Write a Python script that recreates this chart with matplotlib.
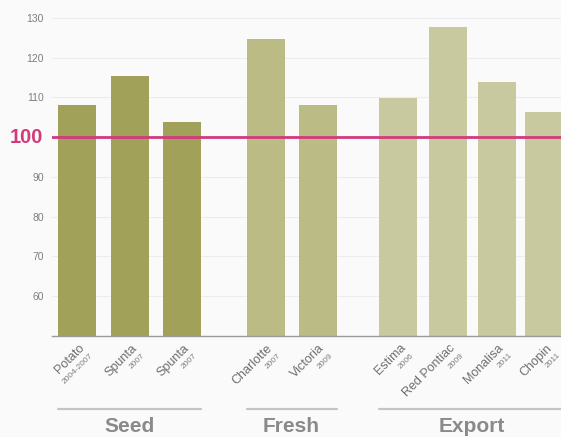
import numpy as np
import matplotlib
matplotlib.use("Agg")
import matplotlib.pyplot as plt
import matplotlib.transforms as mtransforms

# data
names = ["Potato", "Spunta", "Spunta", "Charlotte", "Victoria",
         "Estima", "Red Pontiac", "Monalisa", "Chopin"]
years = ["2004-2007", "2007", "2007", "2007", "2009",
         "2006", "2009", "2011", "2011"]
groups = ["Seed", "Seed", "Seed", "Fresh", "Fresh",
          "Export", "Export", "Export", "Export"]
values = [108.1, 115.5, 103.8, 124.8, 108.1, 109.9, 127.8, 113.9, 106.3]
group_names = ["Seed", "Fresh", "Export"]
yticks = [60, 70, 80, 90, 110, 120, 130]

# layout
xpos = [0, 1.02, 2.03, 3.66, 4.67, 6.24, 7.21, 8.15, 9.08]
group_col = {"Seed": "#a2a15a", "Fresh": "#babb85", "Export": "#c9c9a0"}
pink = "#d23a7c"
grey = "#8a8a8a"
bg = "#fafafa"

fig = plt.figure(figsize=(5.61, 4.37), dpi=100, facecolor=bg)
ax = fig.add_axes([52/561, 101/437, 1 - 52/561, 336/437])
ax.set_facecolor(bg)

ymin = 50
ax.bar(xpos, [v - ymin for v in values], bottom=ymin, width=0.74,
       color=[group_col[g] for g in groups], zorder=2)

ax.set_xlim(-0.49, 9.4)
ax.set_ylim(ymin, 134.5)

# faint grid
for t in yticks:
    ax.axhline(t, color="#ececec", lw=0.8, zorder=0)
ax.axhline(100, color=pink, lw=2, zorder=3)

for s in ["top", "right", "left"]:
    ax.spines[s].set_visible(False)
ax.spines["bottom"].set_color("#9a9a9a")
ax.spines["bottom"].set_linewidth(1)
ax.set_xticks([])
ax.set_yticks(yticks)
ax.set_yticklabels([str(t) for t in yticks], fontsize=7.5, color="#7e7e7e",
                   family="Liberation Sans")
ax.tick_params(axis="y", length=0, pad=6)
ax.text(-0.018, 100, "100", transform=ax.get_yaxis_transform(), ha="right",
        va="center", fontsize=14.5, fontweight="bold", color=pink,
        family="Liberation Sans")

# rotated tick labels: name and small year
for x, n, yr in zip(xpos, names, years):
    tr = mtransforms.offset_copy(ax.transData, fig=fig, x=1*0.72, y=-6*0.72,
                                 units="points")
    ax.text(x, ymin, n, transform=tr, rotation=45, rotation_mode="anchor",
            ha="right", va="top", fontsize=9, color="#6e6e6e",
            family="Liberation Sans", clip_on=False)
    tr2 = mtransforms.offset_copy(ax.transData, fig=fig, x=12*0.72, y=-16*0.72,
                                  units="points")
    ax.text(x, ymin, yr, transform=tr2, rotation=45, rotation_mode="anchor",
            ha="right", va="top", fontsize=6, color="#7e7e7e",
            family="Liberation Sans", clip_on=False)

# group captions with underline
fig_x = mtransforms.blended_transform_factory(ax.transData, fig.transFigure)
for g in group_names:
    xs = [x for x, gg in zip(xpos, groups) if gg == g]
    lo, hi = min(xs) - 0.37, max(xs) + 0.37
    xc = (min(xs) + max(xs)) / 2
    line_y = 1 - 409/437
    ax.plot([lo, hi], [line_y, line_y], transform=fig_x,
            color="#c4c4c4", lw=1.6, clip_on=False, solid_capstyle="round")
    ax.text(xc, 1 - 426/437, g, transform=fig_x,
            ha="center", va="center", fontsize=15, color=grey,
            family="Liberation Sans", fontweight="bold")

fig.savefig("out.png", dpi=100, facecolor=bg)
